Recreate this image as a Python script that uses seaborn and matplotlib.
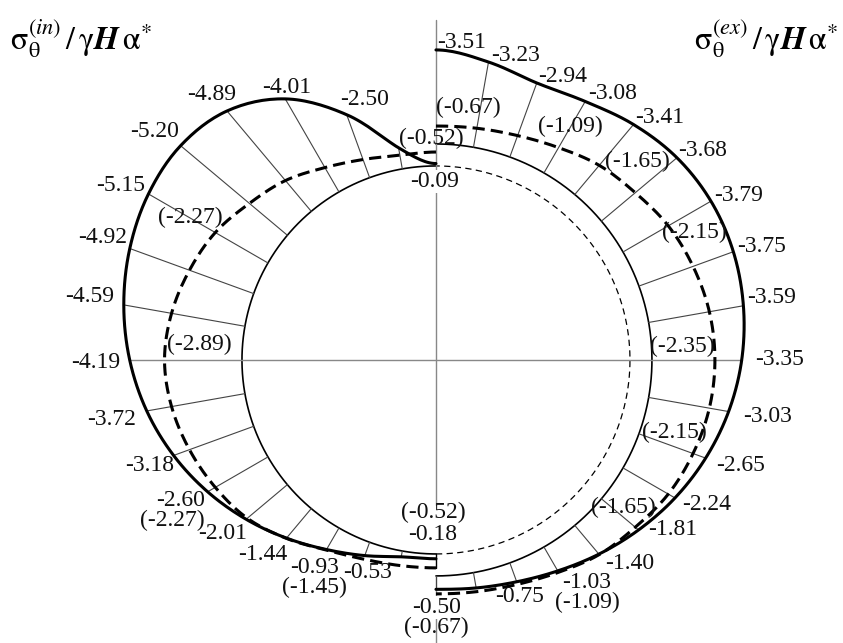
import numpy as np
import pandas as pd
import seaborn as sns
import matplotlib.pyplot as plt

# stations on the contour, degrees (0 = right, counterclockwise)
ang_in = [90, 100, 110, 120, 130, 140, 150, 160, 170, 180,
          190, 200, 210, 220, 230, 240, 250, 260, 270]
ang_ex = [90, 80, 70, 60, 50, 40, 30, 20, 10, 0,
          -10, -20, -30, -40, -50, -60, -70, -80, -90]

# sigma_theta / gamma H alpha*, inner contour (left half)
sig_in = [-0.09, -0.80, -2.50, -4.01, -4.89, -5.20, -5.15, -4.92, -4.59, -4.19,
          -3.72, -3.18, -2.60, -2.01, -1.44, -0.93, -0.53, -0.22, -0.18]
# values in brackets (dashed curve)
sig_in_b = [-0.52, -0.52, -0.72, -1.05, -1.50, -1.85, -2.27, -2.55, -2.78, -2.89,
            -2.78, -2.55, -2.27, -1.95, -1.45, -0.95, -0.67, -0.55, -0.52]

# outer contour (right half)
sig_ex = [-3.51, -3.23, -2.94, -3.08, -3.41, -3.68, -3.79, -3.75, -3.59, -3.35,
          -3.03, -2.65, -2.24, -1.81, -1.40, -1.03, -0.75, -0.58, -0.50]
sig_ex_b = [-0.67, -0.72, -0.85, -1.09, -1.42, -1.65, -1.95, -2.15, -2.30, -2.35,
            -2.30, -2.15, -1.95, -1.65, -1.42, -1.09, -0.85, -0.72, -0.67]

# which stations get a label, and where the label sits (pixels right, down)
lab_in = {90: (-1, 18), 110: (18, -15), 120: (1, -11), 130: (-15, -16),
          140: (-26, -14), 150: (-28, -8), 160: (-27, -11), 170: (-34, -8),
          180: (-34, 3), 190: (-35, 9), 200: (-24, 10), 210: (-27, 9),
          220: (-23, 14), 230: (-24, 16), 240: (-12, 18), 250: (3, 17), 270: (-3, -24)}
lab_in_b = {90: (-5, -14), 150: (-25, -15), 180: (35, -15), 210: (-43, 33),
            230: (28, 49), 270: (-3, -55)}
lab_ex = {90: (26, -7), 80: (27, -7), 70: (26, -6), 60: (27, -8), 50: (26, -7),
          40: (26, -7), 30: (28, -6), 20: (28, -5), 10: (28, -8), 0: (38, 0),
          -10: (39, 5), -20: (35, 7), -30: (32, 7), -40: (34, 0), -50: (31, 9),
          -60: (29, 12), -70: (3, 15), -90: (1, 18)}
lab_ex_b = {90: (32, -19), 60: (12, -21), 40: (2, -31), 20: (1, -34), 0: (-33, -13),
            -20: (-19, -21), -40: (-12, -20), -60: (29, 30), -90: (0, 34)}

R_IN = 7.24   # inner radius, in stress units of the plot
R_EX = 8.06   # outer radius

sns.set_theme(style="white")
plt.rcParams['font.family'] = ['Liberation Serif', 'DejaVu Serif']
plt.rcParams['mathtext.fontset'] = 'stix'


def smooth(ang, val, n=16):
    # catmull-rom through the stations, mirrored at both ends
    a = np.asarray(ang, float)
    v = np.asarray(val, float)
    pa = np.concatenate([[2 * a[0] - a[1]], a, [2 * a[-1] - a[-2]]])
    pv = np.concatenate([[v[1]], v, [v[-2]]])
    t = np.linspace(0, 1, n, endpoint=False)[:, None]
    out = []
    for p in (pa, pv):
        p0, p1, p2, p3 = p[:-3], p[1:-2], p[2:-1], p[3:]
        s = 0.5 * (2 * p1 + (p2 - p0) * t + (2 * p0 - 5 * p1 + 4 * p2 - p3) * t ** 2
                   + (3 * p1 - p0 - 3 * p2 + p3) * t ** 3)
        out.append(np.append(s.T.ravel(), p[-2]))
    return out


def xy(ang, r):
    th = np.radians(np.asarray(ang, float))
    return r * np.cos(th), r * np.sin(th)


fig = plt.figure(figsize=(8.43, 6.43), dpi=100)
ax = fig.add_axes([0, 0, 1, 1])
ax.set_xlim(-16.27, 15.19)
ax.set_ylim(-10.56, 13.43)
ax.set_aspect('equal')
ax.axis('off')

# contours
t = np.linspace(90, 270, 200)
ax.plot(*xy(t, R_IN), color='black', lw=1.2)
t = np.linspace(-90, 90, 200)
ax.plot(*xy(t, R_IN), color='black', lw=0.9, ls=(0, (5, 3.5)))
ax.plot(*xy(t, R_EX), color='black', lw=1.2)

# axes of symmetry
ax.plot([xy(180, R_IN - sig_in[9])[0], xy(0, R_EX - sig_ex[9])[0]], [0, 0],
        color='#888888', lw=1.0)
ax.plot([0, 0], [12.69, -5.4], color='#888888', lw=1.0)
ax.plot([0, 0], [-R_EX, -10.6], color='#888888', lw=1.0)
ax.plot([0, 0], [-R_IN, -R_IN + sig_in_b[-1]], color='black', lw=1.0)

# radial ticks
for a, v in zip(ang_in, sig_in):
    if a in (90, 180, 270):
        continue
    x, y = xy([a, a], np.array([R_IN, R_IN - v]))
    ax.plot(x, y, color='#444444', lw=0.8)
for a, v in zip(ang_ex, sig_ex):
    if a in (90, 0):
        continue
    x, y = xy([a, a], np.array([R_EX, R_EX - v]))
    ax.plot(x, y, color='#444444', lw=0.8)

# stress curves
curves = [(ang_in, sig_in, R_IN, '-'), (ang_in, sig_in_b, R_IN, (0, (4, 2))),
          (ang_ex, sig_ex, R_EX, '-'), (ang_ex, sig_ex_b, R_EX, (0, (4, 2)))]
for ang, sig, R, ls in curves:
    a, v = smooth(ang, sig)
    x, y = xy(a, R - v)
    df = pd.DataFrame({'x': x, 'y': y})
    sns.lineplot(data=df, x='x', y='y', sort=False, estimator=None, color='black',
                 linewidth=2.2, linestyle=ls, ax=ax)

# value labels
groups = [(ang_in, sig_in, R_IN, lab_in, '{:.2f}'),
          (ang_in, sig_in_b, R_IN, lab_in_b, '({:.2f})'),
          (ang_ex, sig_ex, R_EX, lab_ex, '{:.2f}'),
          (ang_ex, sig_ex_b, R_EX, lab_ex_b, '({:.2f})')]
for ang, sig, R, lab, fmt in groups:
    for a, v in zip(ang, sig):
        if a not in lab:
            continue
        dx, dy = lab[a]
        txt = fmt.format(v)
        bg = None
        if txt in ('-0.09', '-0.50'):
            bg = dict(facecolor='white', edgecolor='none', pad=0.5)
        ax.annotate(txt, xy=xy(a, R - v), xytext=(dx, -dy), textcoords='offset pixels',
                    ha='center', va='center', fontsize=17, color='#111111', bbox=bg)

fig.text(10 / 843, 1 - 38 / 643, r'$\mathrm{\sigma}_{\mathrm{\theta}}^{(in)}\,/\,\mathrm{\gamma}\mathbfit{H}\,\mathrm{\alpha}^{*}$',
         ha='left', va='center', fontsize=23, color='black')
fig.text(838 / 843, 1 - 38 / 643, r'$\mathrm{\sigma}_{\mathrm{\theta}}^{(ex)}\,/\,\mathrm{\gamma}\mathbfit{H}\,\mathrm{\alpha}^{*}$',
         ha='right', va='center', fontsize=23, color='black')

fig.savefig('out.png', dpi=100)
